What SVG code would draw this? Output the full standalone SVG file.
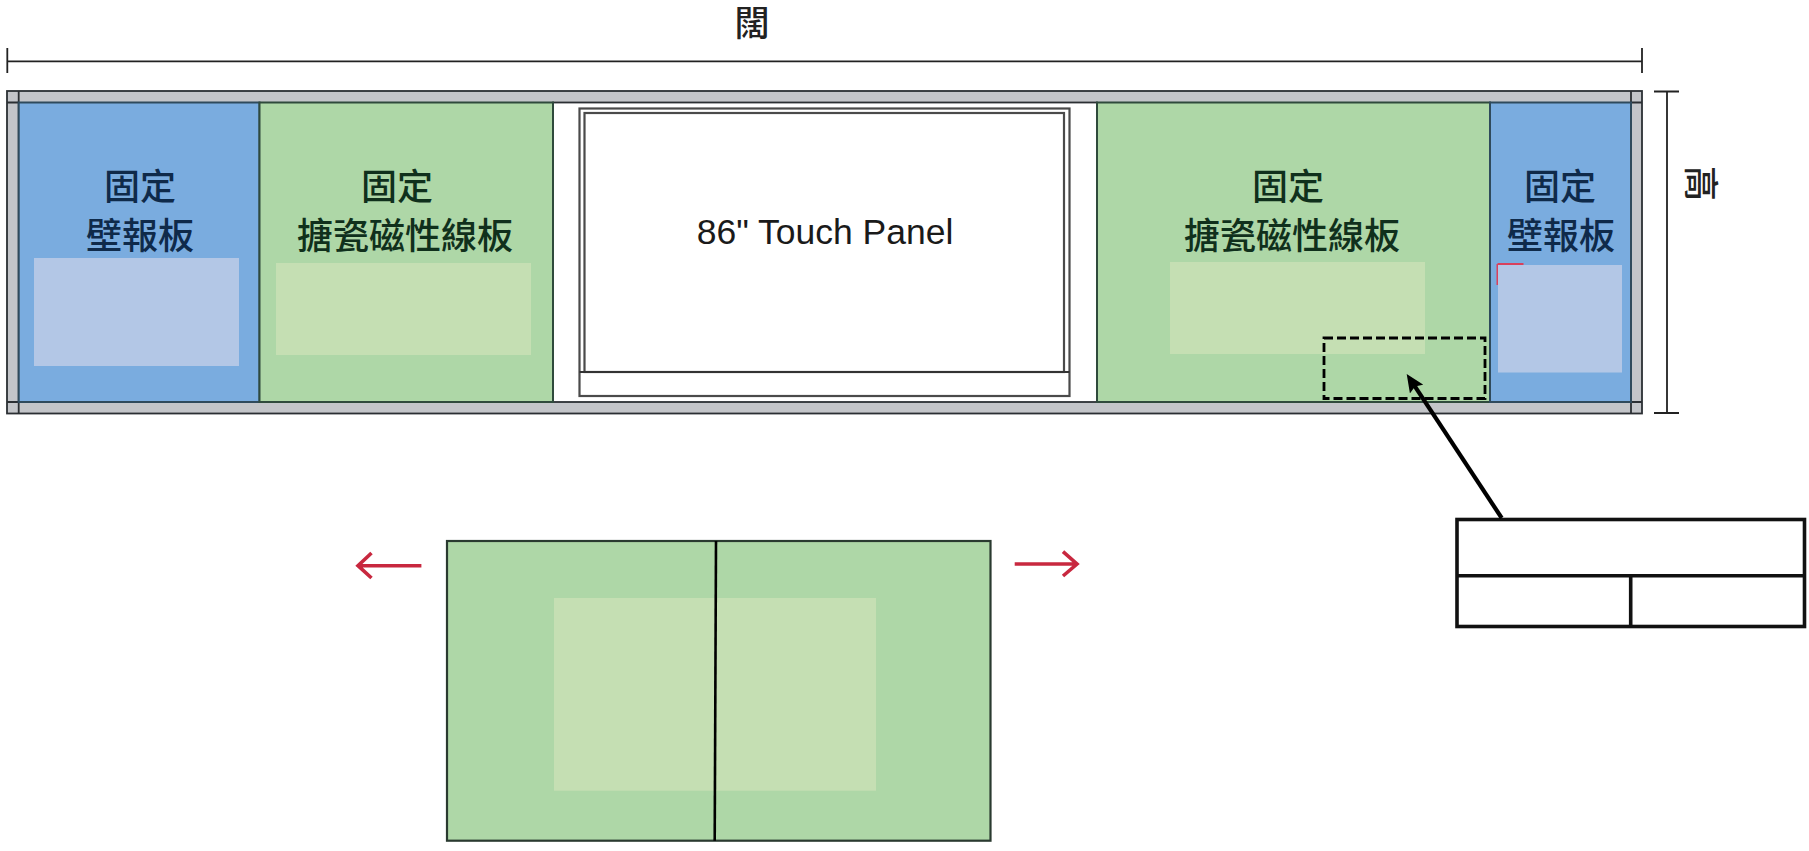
<svg xmlns="http://www.w3.org/2000/svg" width="1809" height="851" viewBox="0 0 1809 851">
<style>
text{font-family:"Liberation Sans","Noto Sans CJK TC",sans-serif}
.cjk{font-family:"Noto Sans CJK TC",sans-serif;font-size:36px;font-weight:500;text-anchor:middle}
.onb{fill:#0f2a4a}.ong{fill:#10301c}.dk{fill:#222;font-size:35px}
.frame{fill:#c3c5c9;stroke:#2b2f33;stroke-width:1.8}
.blue{fill:#7aacdf;stroke:#2f4a5c;stroke-width:2}
.green{fill:#aed7a7;stroke:#2f4a3c;stroke-width:2}
.lb{fill:#b3c7e6}.lg{fill:#c5dfb3}
.dim{stroke:#222;stroke-width:1.8;fill:none}
.panel{fill:#fff;stroke:#4a4a4a;stroke-width:2.2}
.tbl{fill:none;stroke:#111;stroke-width:3.6}
.red{stroke:#c8283f;stroke-width:3.6;fill:none}
</style>
<defs>
<marker id="black-arrow" markerUnits="userSpaceOnUse" markerWidth="18" markerHeight="16" refX="10" refY="8" orient="auto"><path d="M0,0L18,8L0,16L3,8Z" fill="#000"/></marker>
</defs>
<rect width="1809" height="851" fill="#fff"/>
<g id="title"><text class="cjk dk" x="752" y="36">闊</text></g>
<g id="frame">
<rect class="frame" x="7" y="91" width="1635" height="322.5"/>
<rect x="553" y="102.5" width="544" height="299.5" fill="#fff" stroke="#2b2f33" stroke-width="1.8"/>
<path d="M18.7 91V413.5M7 102.5H18.7M7 402H18.7M1631 91V413.5M1631 102.5H1642M1631 402H1642" stroke="#2b2f33" stroke-width="1.8" fill="none"/>
</g>
<g id="board-left-blue">
<rect class="blue" x="18.7" y="102.5" width="240.8" height="299.5"/>
<rect class="lb" x="34" y="258" width="205" height="108"/>
<text class="cjk onb" x="140" y="200">固定</text>
<text class="cjk onb" x="140" y="249">壁報板</text>
</g>
<g id="board-left-green">
<rect class="green" x="259.5" y="102.5" width="293.5" height="299.5"/>
<rect class="lg" x="276" y="263" width="255" height="92"/>
<text class="cjk ong" x="397" y="200">固定</text>
<text class="cjk ong" x="405" y="249">搪瓷磁性線板</text>
</g>
<g id="touch-panel">
<rect class="panel" x="579.5" y="108.5" width="490" height="287.5"/>
<rect class="panel" x="584.5" y="113" width="479.5" height="259"/>
<path d="M579.5 372H1069.5" stroke="#333" stroke-width="2"/>
<text x="825" y="244" font-size="35.5" text-anchor="middle" fill="#1a1a1a">86" Touch Panel</text>
</g>
<g id="board-right-green">
<rect class="green" x="1097" y="102.5" width="393" height="299.5"/>
<rect class="lg" x="1170" y="262" width="255" height="92"/>
<text class="cjk ong" x="1288" y="200">固定</text>
<text class="cjk ong" x="1292" y="249">搪瓷磁性線板</text>
<rect id="dashed-area" x="1324" y="338" width="161" height="60.5" fill="none" stroke="#000" stroke-width="2.8" stroke-dasharray="9 4"/>
</g>
<g id="board-right-blue">
<rect class="blue" x="1490" y="102.5" width="141" height="299.5"/>
<path d="M1497.5 264H1523.5M1497.5 264V285" stroke="#d9405c" stroke-width="2" fill="none"/>
<rect class="lb" x="1498" y="265" width="124" height="107.5"/>
<text class="cjk onb" x="1560" y="200">固定</text>
<text class="cjk onb" x="1561" y="249">壁報板</text>
</g>
<g id="table">
<rect class="tbl" x="1457" y="519.5" width="347.5" height="107"/>
<path class="tbl" d="M1457 575.7H1804.5M1630.7 575.7V626.5"/>
</g>
<g id="sliding-board">
<rect x="447" y="541" width="543.5" height="299.7" fill="#aed7a7" stroke="#2a3a30" stroke-width="2.2"/>
<rect class="lg" x="554" y="598" width="322" height="192.7"/>
<path d="M716 541L714.7 840.7" stroke="#000" stroke-width="2.6"/>
</g>
<g id="dimensions">
<path class="dim" d="M7 61.3H1642M7.3 48V73M1642 48V73"/>
<path class="dim" d="M1667 91.5V413M1654 91.5H1679M1654 413H1679"/>
<text class="cjk dk" x="0" y="0" transform="translate(1688 183.5) rotate(90)">高</text>
</g>
<g id="connectors">
<path d="M1501.7 518L1411.1 380.7" stroke="#000" stroke-width="4.2" fill="none" marker-end="url(#black-arrow)"/>
<path class="red" d="M421.4 565.7H358M371.5 553L358 565.7L371.5 578"/>
<path class="red" d="M1014.7 564H1077M1063 551.7L1077 564L1063 576"/>
</g>
</svg>
